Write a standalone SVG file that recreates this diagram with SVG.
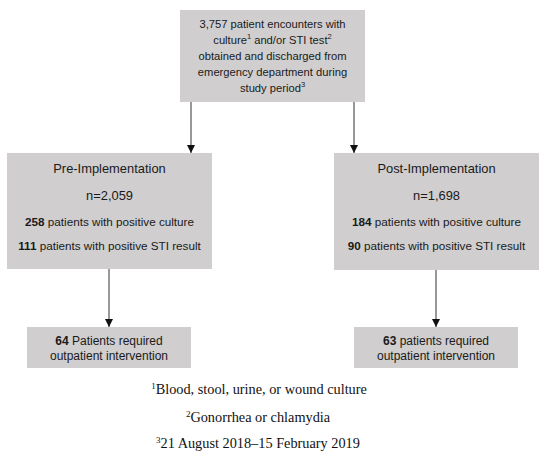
<svg xmlns="http://www.w3.org/2000/svg" width="550" height="459" viewBox="0 0 550 459">
<style>
.box{fill:#d0cece;stroke:none}
.t{font-family:"Liberation Sans",Arial,sans-serif;font-size:11.7px;fill:#1a1a1a;text-anchor:middle}
.tp{font-size:11.2px}
.h{font-size:12.9px}
.o{font-size:12px}
.b{font-weight:bold}
.sup{font-size:7.5px}
.fn{font-family:"Liberation Serif","Times New Roman",serif;font-size:14.3px;fill:#111;text-anchor:middle}
.fs{font-size:9px}
.c{stroke:#333;stroke-width:1;fill:none;marker-end:url(#ah)}
</style>
<defs>
<marker id="ah" viewBox="0 0 10 10" refX="10" refY="5" markerWidth="8" markerHeight="8" markerUnits="userSpaceOnUse" orient="auto">
<path d="M0,0 L10,5 L0,10 z" fill="#111"/>
</marker>
</defs>
<rect width="550" height="459" fill="#fff"/>
<g id="connectors">
<line class="c" x1="191" y1="102" x2="191" y2="153"/>
<line class="c" x1="354" y1="102" x2="354" y2="153"/>
<line class="c" x1="109" y1="269" x2="109" y2="327"/>
<line class="c" x1="436" y1="270" x2="436" y2="327"/>
</g>
<g id="top">
<rect class="box" x="180" y="10" width="185" height="92"/>
<text class="t tp" x="272.5" y="27.5">3,757 patient encounters with</text>
<text class="t tp" x="272.5" y="44">culture<tspan class="sup" dy="-5">1</tspan><tspan dy="5"> and/or STI test</tspan><tspan class="sup" dy="-5">2</tspan></text>
<text class="t tp" x="272.5" y="60">obtained and discharged from</text>
<text class="t tp" x="272.5" y="76">emergency department during</text>
<text class="t tp" x="272.5" y="92">study period<tspan class="sup" dy="-5">3</tspan></text>
</g>
<g id="pre">
<rect class="box" x="7" y="153" width="205" height="116"/>
<text class="t h" x="109.5" y="172.5">Pre-Implementation</text>
<text class="t h" x="109.5" y="199.5">n=2,059</text>
<text class="t" x="109.5" y="225.5"><tspan class="b">258</tspan> patients with positive culture</text>
<text class="t" x="109.5" y="249.5"><tspan class="b">111</tspan> patients with positive STI result</text>
</g>
<g id="post">
<rect class="box" x="334" y="153" width="205" height="117"/>
<text class="t h" x="436.5" y="172.5">Post-Implementation</text>
<text class="t h" x="436.5" y="199.5">n=1,698</text>
<text class="t" x="436.5" y="225.5"><tspan class="b">184</tspan> patients with positive culture</text>
<text class="t" x="436.5" y="249.5"><tspan class="b">90</tspan> patients with positive STI result</text>
</g>
<g id="pre-out">
<rect class="box" x="27" y="327" width="164" height="41"/>
<text class="t o" x="109" y="345"><tspan class="b">64</tspan> Patients required</text>
<text class="t o" x="109" y="359.5">outpatient intervention</text>
</g>
<g id="post-out">
<rect class="box" x="354" y="327" width="164" height="41"/>
<text class="t o" x="436" y="345"><tspan class="b">63</tspan> patients required</text>
<text class="t o" x="436" y="359.5">outpatient intervention</text>
</g>
<g id="footnotes">
<text class="fn" x="259" y="394"><tspan class="fs" dy="-5">1</tspan><tspan dy="5">Blood, stool, urine, or wound culture</tspan></text>
<text class="fn" x="258" y="422"><tspan class="fs" dy="-5">2</tspan><tspan dy="5">Gonorrhea or chlamydia</tspan></text>
<text class="fn" x="258" y="448"><tspan class="fs" dy="-5">3</tspan><tspan dy="5">21 August 2018–15 February 2019</tspan></text>
</g>
</svg>
